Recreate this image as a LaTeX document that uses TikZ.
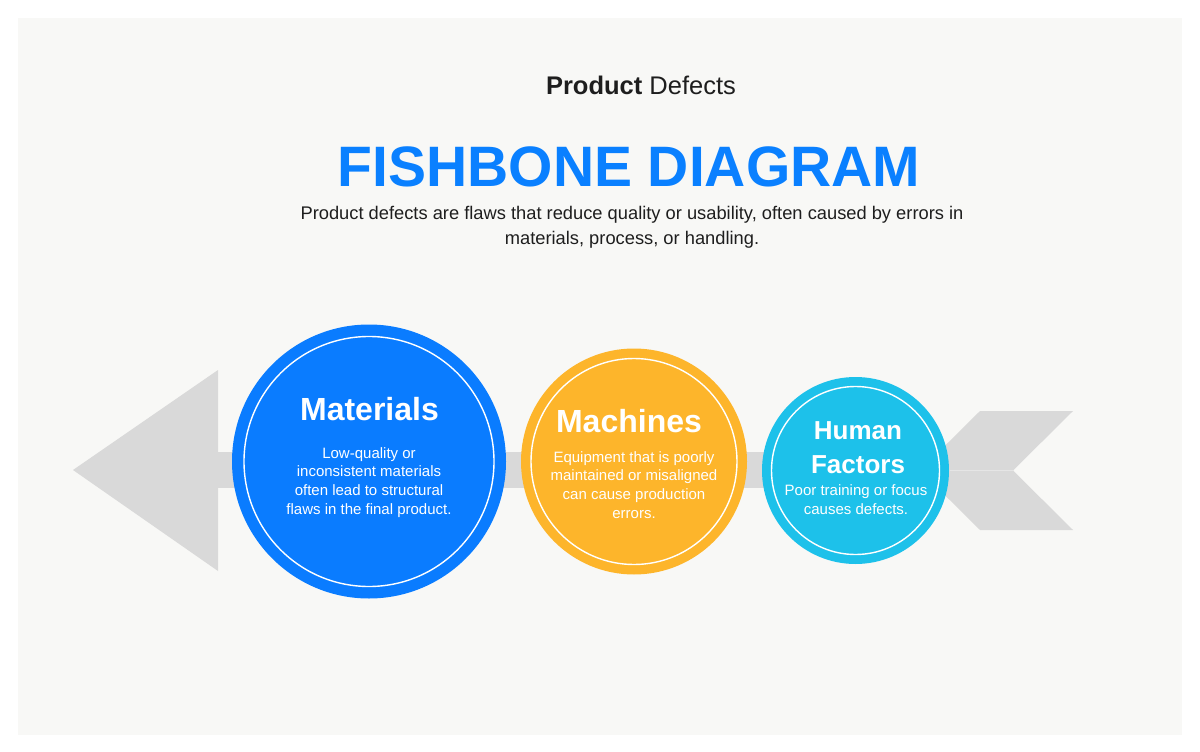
\documentclass[tikz,border=0pt]{standalone}
\usepackage{fontspec}
\setmainfont{Liberation Sans}
\definecolor{panel}{HTML}{F8F8F6}
\definecolor{bone}{HTML}{D9D9D9}
\definecolor{cblue}{HTML}{0A7CFF}
\definecolor{corange}{HTML}{FDB52B}
\definecolor{ccyan}{HTML}{1DC1EA}
\definecolor{titleblue}{HTML}{0A80FF}
\definecolor{ink}{HTML}{1E1E1E}
\begin{document}
\begin{tikzpicture}[x=1pt,y=-1pt,
  circ/.style={circle,draw=none,inner sep=0pt},
  ring/.style={draw=white,line width=1.4pt},
  ttl/.style={text=white,font=\fontsize{32}{36}\selectfont\bfseries,inner sep=0pt},
  body/.style={text=white,font=\fontsize{15}{18.8}\selectfont,align=center,inner sep=0pt},
  spine/.style={draw=bone,line width=36pt}]
\useasboundingbox[fill=white] (0,0) rectangle (1200,752);
\fill[panel] (18,18) rectangle (1182,735);
% header
\node[text=ink,font=\fontsize{25.5}{28}\selectfont,anchor=base,inner sep=0pt] (hdr) at (641,95) {\textbf{Product} Defects};
\node[text=titleblue,font=\fontsize{57}{60}\selectfont\bfseries,anchor=base,inner sep=0pt] (ttl) at (629,186) {FISHBONE DIAGRAM};
\node[text=ink,font=\fontsize{18.3}{25}\selectfont,align=center,anchor=base,inner sep=0pt] (sub) at (632,244) {Product defects are flaws that reduce quality or usability, often caused by errors in\\materials, process, or handling.};
% bones
\coordinate (spineL) at (210,470);
\coordinate (spineR) at (950,470);
\draw[spine] (spineL) -- (spineR);
\fill[bone] (73,470) -- (218,370) -- (218,571) -- cycle;
\fill[bone] (980,411) -- (1073,411) -- (1013,470.5) -- (1073,530) -- (980,530) -- (920,470.5) -- cycle;
\draw[draw=panel!40!bone,line width=0.6pt] (943,470.5) -- (1013,470.5);
% circles
\node[circ,fill=cblue,minimum size=274pt] (mat) at (369,461.5) {};
\draw[ring] (mat.center) circle[radius=125pt];
\node[circ,fill=corange,minimum size=226pt] (mac) at (634,461.5) {};
\draw[ring] (mac.center) circle[radius=103pt];
\node[circ,fill=ccyan,minimum size=187pt] (hum) at (855.5,470.5) {};
\draw[ring] (hum.center) circle[radius=84pt];
% texts
\node[ttl,anchor=base] (matT) at (369.5,420) {Materials};
\node[body,anchor=base] (matB) at (369,514.5) {Low-quality or\\inconsistent materials\\often lead to structural\\flaws in the final product.};
\node[ttl,anchor=base] (macT) at (629,432) {Machines};
\node[body,anchor=base] (macB) at (634,518.5) {Equipment that is poorly\\maintained or misaligned\\can cause production\\errors.};
\node[ttl,font=\fontsize{26}{34}\selectfont\bfseries,align=center,anchor=base] (humT) at (858,473) {Human\\Factors};
\node[body,anchor=base] (humB) at (856,514) {Poor training or focus\\causes defects.};
\end{tikzpicture}
\end{document}
